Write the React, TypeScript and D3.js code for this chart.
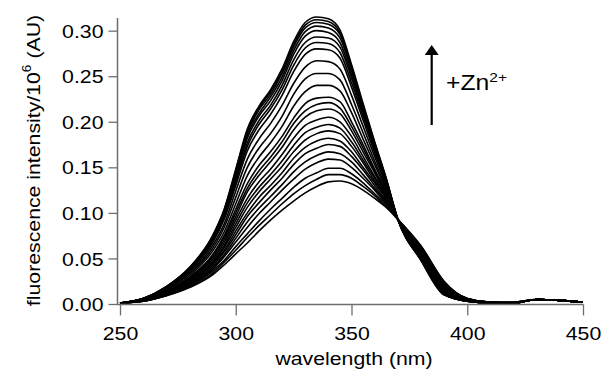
import { useEffect, useRef } from "react";
import * as d3 from "d3";

// wavelength grid (nm) shared by every spectrum
const WAVELENGTHS = [250, 260, 270, 280, 290, 295, 300, 305, 310, 315, 320, 325, 330, 335, 340, 345, 350, 355, 360, 365, 370, 380, 390, 400, 410, 420, 430, 440, 450];

// fluorescence intensity / 10^6 (AU), one row per Zn2+ addition
const SPECTRA = [
    [0.001, 0.003, 0.009, 0.018, 0.032, 0.043, 0.055, 0.067, 0.080, 0.092, 0.103, 0.113, 0.122, 0.129, 0.134, 0.135, 0.132, 0.125, 0.116, 0.106, 0.093, 0.064, 0.025, 0.006, 0.002, 0.002, 0.005, 0.004, 0.002],
    [0.001, 0.003, 0.009, 0.019, 0.034, 0.046, 0.059, 0.073, 0.086, 0.098, 0.110, 0.121, 0.130, 0.137, 0.142, 0.142, 0.138, 0.129, 0.119, 0.107, 0.093, 0.063, 0.024, 0.006, 0.002, 0.002, 0.005, 0.004, 0.002],
    [0.001, 0.003, 0.010, 0.020, 0.036, 0.048, 0.063, 0.077, 0.091, 0.104, 0.116, 0.128, 0.138, 0.144, 0.149, 0.149, 0.143, 0.133, 0.121, 0.109, 0.093, 0.063, 0.024, 0.006, 0.002, 0.002, 0.005, 0.004, 0.002],
    [0.001, 0.003, 0.010, 0.021, 0.038, 0.052, 0.068, 0.084, 0.099, 0.112, 0.125, 0.137, 0.148, 0.155, 0.159, 0.158, 0.150, 0.138, 0.125, 0.110, 0.093, 0.062, 0.023, 0.006, 0.002, 0.002, 0.005, 0.004, 0.002],
    [0.001, 0.004, 0.011, 0.022, 0.040, 0.054, 0.072, 0.090, 0.105, 0.118, 0.131, 0.145, 0.156, 0.163, 0.167, 0.165, 0.156, 0.142, 0.127, 0.112, 0.093, 0.061, 0.022, 0.005, 0.002, 0.001, 0.005, 0.004, 0.002],
    [0.001, 0.004, 0.011, 0.023, 0.042, 0.057, 0.076, 0.096, 0.111, 0.125, 0.138, 0.153, 0.165, 0.171, 0.175, 0.173, 0.162, 0.147, 0.130, 0.113, 0.093, 0.060, 0.022, 0.005, 0.002, 0.001, 0.005, 0.004, 0.002],
    [0.001, 0.004, 0.012, 0.024, 0.044, 0.059, 0.080, 0.100, 0.117, 0.130, 0.144, 0.160, 0.172, 0.179, 0.182, 0.179, 0.167, 0.150, 0.133, 0.115, 0.093, 0.060, 0.021, 0.005, 0.002, 0.001, 0.005, 0.004, 0.002],
    [0.001, 0.004, 0.012, 0.025, 0.045, 0.062, 0.084, 0.106, 0.123, 0.137, 0.151, 0.167, 0.180, 0.187, 0.190, 0.187, 0.173, 0.155, 0.135, 0.116, 0.093, 0.059, 0.020, 0.005, 0.002, 0.001, 0.005, 0.004, 0.002],
    [0.001, 0.004, 0.013, 0.026, 0.047, 0.064, 0.088, 0.111, 0.128, 0.142, 0.157, 0.174, 0.188, 0.194, 0.197, 0.193, 0.178, 0.158, 0.138, 0.117, 0.093, 0.058, 0.020, 0.005, 0.002, 0.001, 0.005, 0.004, 0.002],
    [0.001, 0.004, 0.013, 0.027, 0.049, 0.067, 0.092, 0.116, 0.134, 0.148, 0.164, 0.182, 0.196, 0.202, 0.205, 0.200, 0.184, 0.162, 0.140, 0.119, 0.093, 0.058, 0.019, 0.005, 0.002, 0.001, 0.005, 0.004, 0.002],
    [0.001, 0.005, 0.013, 0.028, 0.051, 0.070, 0.096, 0.123, 0.141, 0.156, 0.172, 0.191, 0.205, 0.212, 0.214, 0.209, 0.190, 0.167, 0.144, 0.120, 0.093, 0.057, 0.018, 0.005, 0.002, 0.001, 0.005, 0.004, 0.002],
    [0.001, 0.005, 0.014, 0.029, 0.053, 0.073, 0.100, 0.127, 0.146, 0.161, 0.178, 0.198, 0.212, 0.219, 0.221, 0.215, 0.195, 0.171, 0.146, 0.122, 0.093, 0.056, 0.018, 0.005, 0.001, 0.001, 0.005, 0.004, 0.002],
    [0.001, 0.005, 0.014, 0.029, 0.054, 0.075, 0.104, 0.132, 0.152, 0.167, 0.184, 0.204, 0.220, 0.226, 0.227, 0.222, 0.200, 0.175, 0.148, 0.123, 0.093, 0.056, 0.017, 0.004, 0.001, 0.001, 0.005, 0.004, 0.002],
    [0.001, 0.005, 0.015, 0.031, 0.058, 0.079, 0.110, 0.141, 0.161, 0.177, 0.195, 0.217, 0.233, 0.240, 0.240, 0.234, 0.210, 0.181, 0.153, 0.125, 0.093, 0.055, 0.016, 0.004, 0.001, 0.001, 0.005, 0.004, 0.002],
    [0.001, 0.005, 0.016, 0.033, 0.061, 0.084, 0.117, 0.150, 0.171, 0.187, 0.206, 0.230, 0.247, 0.253, 0.253, 0.246, 0.219, 0.188, 0.157, 0.127, 0.093, 0.053, 0.015, 0.004, 0.001, 0.001, 0.005, 0.004, 0.002],
    [0.001, 0.005, 0.016, 0.034, 0.064, 0.088, 0.124, 0.159, 0.181, 0.198, 0.218, 0.242, 0.260, 0.267, 0.266, 0.258, 0.229, 0.195, 0.162, 0.130, 0.093, 0.052, 0.014, 0.004, 0.001, 0.001, 0.005, 0.004, 0.002],
    [0.001, 0.006, 0.017, 0.036, 0.067, 0.093, 0.130, 0.168, 0.191, 0.208, 0.229, 0.255, 0.274, 0.280, 0.279, 0.270, 0.238, 0.202, 0.166, 0.132, 0.093, 0.051, 0.013, 0.004, 0.001, 0.001, 0.005, 0.004, 0.002],
    [0.001, 0.006, 0.018, 0.037, 0.069, 0.095, 0.134, 0.173, 0.197, 0.214, 0.235, 0.262, 0.281, 0.287, 0.286, 0.276, 0.243, 0.206, 0.169, 0.133, 0.093, 0.050, 0.012, 0.003, 0.001, 0.001, 0.005, 0.004, 0.002],
    [0.001, 0.006, 0.018, 0.037, 0.070, 0.097, 0.137, 0.177, 0.201, 0.218, 0.240, 0.268, 0.287, 0.293, 0.292, 0.282, 0.248, 0.209, 0.171, 0.134, 0.093, 0.050, 0.012, 0.003, 0.001, 0.001, 0.005, 0.004, 0.002],
    [0.001, 0.006, 0.018, 0.038, 0.071, 0.099, 0.140, 0.182, 0.206, 0.223, 0.245, 0.274, 0.294, 0.300, 0.298, 0.287, 0.252, 0.212, 0.173, 0.135, 0.093, 0.049, 0.011, 0.003, 0.001, 0.001, 0.005, 0.004, 0.002],
    [0.001, 0.006, 0.018, 0.039, 0.073, 0.101, 0.143, 0.185, 0.209, 0.227, 0.249, 0.278, 0.299, 0.305, 0.303, 0.292, 0.256, 0.215, 0.175, 0.136, 0.093, 0.049, 0.011, 0.003, 0.001, 0.001, 0.005, 0.004, 0.002],
    [0.001, 0.006, 0.019, 0.039, 0.074, 0.102, 0.145, 0.188, 0.213, 0.230, 0.253, 0.282, 0.303, 0.309, 0.307, 0.296, 0.259, 0.217, 0.176, 0.137, 0.093, 0.049, 0.011, 0.003, 0.001, 0.001, 0.005, 0.004, 0.002],
    [0.001, 0.006, 0.019, 0.040, 0.074, 0.103, 0.146, 0.190, 0.215, 0.233, 0.255, 0.285, 0.306, 0.312, 0.310, 0.298, 0.261, 0.218, 0.177, 0.137, 0.093, 0.048, 0.010, 0.003, 0.001, 0.001, 0.005, 0.004, 0.002],
    [0.001, 0.006, 0.019, 0.040, 0.075, 0.104, 0.148, 0.192, 0.217, 0.235, 0.258, 0.288, 0.309, 0.315, 0.313, 0.301, 0.263, 0.220, 0.178, 0.138, 0.093, 0.048, 0.010, 0.003, 0.001, 0.001, 0.005, 0.004, 0.002],
];

const X_TICKS = [250, 300, 350, 400, 450];
const Y_TICKS = [0, 0.05, 0.1, 0.15, 0.2, 0.25, 0.3];

const FONT = "'Liberation Sans', Arial, sans-serif";
const AXIS = "#6e6e6e";
const STRETCH = 1.15; // the original lettering is a bit wider than Arial

export default function App() {
    const svgRef = useRef<SVGSVGElement>(null);

    useEffect(() => {
        if (!svgRef.current) return;
        const svg = d3.select(svgRef.current);
        svg.selectAll("*").remove();

        const x = d3.scaleLinear().domain([250, 450]).range([120, 583]);
        const y = d3.scaleLinear().domain([0, 0.3139]).range([304, 18]);

        // spectra
        const line = d3
            .line<number>()
            .x((_, i) => x(WAVELENGTHS[i]))
            .y((d) => y(d))
            .curve(d3.curveMonotoneX);

        svg.append("g")
            .selectAll("path")
            .data(SPECTRA)
            .join("path")
            .attr("d", (d) => line(d))
            .attr("fill", "none")
            .attr("stroke", "#000")
            .attr("stroke-width", 1.6)
            .attr("stroke-linejoin", "round");

        // y axis
        const gy = svg
            .append("g")
            .attr("transform", "translate(117.5,0)")
            .call(d3.axisLeft(y).tickValues(Y_TICKS).tickFormat(d3.format(".2f")).tickSize(9).tickSizeOuter(0));
        gy.select(".domain").remove();
        gy.selectAll(".tick line").attr("stroke", AXIS).attr("stroke-width", 1.3);
        gy.attr("font-size", 18.5).attr("font-family", FONT);
        gy.selectAll(".tick text")
            .attr("x", null)
            .attr("dy", null)
            .attr("fill", "#000")
            .attr("transform", `translate(-14,6.6) scale(${STRETCH},1)`);

        // x axis
        const gx = svg
            .append("g")
            .attr("transform", "translate(0,304.5)")
            .call(d3.axisBottom(x).tickValues(X_TICKS).tickFormat(d3.format("d")).tickSize(11).tickSizeOuter(0));
        gx.select(".domain").remove();
        gx.selectAll(".tick line").attr("stroke", AXIS).attr("stroke-width", 1.3);
        gx.attr("font-size", 18.5).attr("font-family", FONT);
        gx.selectAll(".tick text")
            .attr("y", null)
            .attr("dy", null)
            .attr("fill", "#000")
            .attr("transform", `translate(0,35) scale(${STRETCH},1)`);

        // axis lines
        svg.append("line").attr("x1", 117.5).attr("x2", 117.5).attr("y1", 18).attr("y2", 305).attr("stroke", AXIS).attr("stroke-width", 1.5);
        svg.append("line").attr("x1", 117).attr("x2", 583.5).attr("y1", 304.5).attr("y2", 304.5).attr("stroke", AXIS).attr("stroke-width", 1.5);

        // axis titles
        svg.append("g")
            .attr("transform", `translate(354,365) scale(${STRETCH},1)`)
            .append("text")
            .attr("text-anchor", "middle")
            .attr("font-family", FONT)
            .attr("font-size", 18.5)
            .text("wavelength (nm)");

        const yl = svg
            .append("g")
            .attr("transform", `translate(40,160.5) rotate(-90) scale(${STRETCH},1)`)
            .append("text")
            .attr("text-anchor", "middle")
            .attr("font-family", FONT)
            .attr("font-size", 18.5);
        yl.append("tspan").text("fluorescence intensity/10");
        yl.append("tspan").attr("font-size", 12).attr("dy", -9).text("6");
        yl.append("tspan").attr("dy", 9).text(" (AU)");

        // Zn2+ arrow annotation
        svg.append("line").attr("x1", 431.7).attr("x2", 431.7).attr("y1", 125).attr("y2", 52).attr("stroke", "#000").attr("stroke-width", 2.2);
        svg.append("path").attr("d", "M431.7,45 L424.7,55 L438.7,55 Z").attr("fill", "#000");

        const zn = svg
            .append("g")
            .attr("transform", `translate(446,90) scale(${STRETCH},1)`)
            .append("text")
            .attr("font-family", FONT)
            .attr("font-size", 21.5);
        zn.append("tspan").text("+Zn");
        zn.append("tspan").attr("font-size", 13.5).attr("dy", -8).text("2+");
    }, []);

    return <svg ref={svgRef} width={605} height={374} style={{ position: "absolute", left: 0, top: 0, background: "#fff" }} />;
}
